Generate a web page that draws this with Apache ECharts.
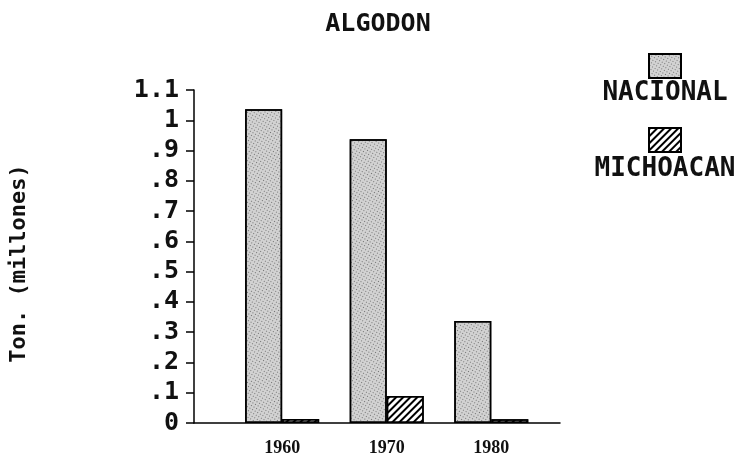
<!DOCTYPE html>
<html>
<head>
<meta charset="utf-8">
<script src="https://cdn.jsdelivr.net/npm/echarts@6/dist/echarts.min.js"></script>
<style>html,body{margin:0;padding:0;background:#fff}#c{width:737px;height:465px}</style>
</head>
<body>
<div id="c"></div>
<script>
var chartTitle = 'ALGODON';
var yAxisName = 'Ton. (millones)';
var years = [1960, 1970, 1980];
var seriesNames = ['NACIONAL', 'MICHOACAN'];
var nacional = [1.036, 0.937, 0.337];
var michoacan = [0.013, 0.089, 0.012];
var yTickValues = [0, 0.1, 0.2, 0.3, 0.4, 0.5, 0.6, 0.7, 0.8, 0.9, 1, 1.1];
var yTickLabels = ['0', '.1', '.2', '.3', '.4', '.5', '.6', '.7', '.8', '.9', '1', '1.1'];

var monoFont = "'DejaVu Sans Mono', 'Liberation Mono', monospace";

function pairs(vals) { return years.map(function (y, i) { return [y, vals[i]]; }); }

var chart = echarts.init(document.getElementById('c'), null, { renderer: 'canvas' });
chart.setOption({
  animation: false,
  backgroundColor: '#fff',
  aria: { enabled: true, decal: { show: true } },
  title: [
    { text: chartTitle, left: 378, top: 12, padding: 0, textAlign: 'center',
      textStyle: { fontFamily: monoFont, fontWeight: 'bold', fontSize: 25, color: '#111' } },
    { text: seriesNames[0], left: 665, top: 80, padding: 0, textAlign: 'center',
      textStyle: { fontFamily: monoFont, fontWeight: 'bold', fontSize: 26, color: '#111' } },
    { text: seriesNames[1], left: 665, top: 156, padding: 0, textAlign: 'center',
      textStyle: { fontFamily: monoFont, fontWeight: 'bold', fontSize: 26, color: '#111' } }
  ],
  legend: {
    data: seriesNames,
    orient: 'vertical',
    left: 648, top: 53, padding: 0,
    icon: 'rect',
    itemWidth: 32, itemHeight: 24, itemGap: 48,
    formatter: function () { return ''; },
    textStyle: { fontSize: 1 }
  },
  grid: { left: 182, top: 90, right: 177, bottom: 42, containLabel: false },
  xAxis: {
    type: 'value',
    min: 1951.57, max: 1986.57,
    axisLine: { show: true, onZero: false, lineStyle: { color: '#000', width: 1.5 } },
    axisTick: { show: false },
    splitLine: { show: false },
    axisLabel: {
      customValues: years,
      margin: 16,
      fontFamily: "'Liberation Serif', 'DejaVu Serif', serif",
      fontWeight: 'bold', fontSize: 18, color: '#111',
      formatter: function (v) { return String(Math.round(v)); }
    }
  },
  yAxis: {
    type: 'value',
    min: 0, max: 1.1, interval: 0.1,
    name: yAxisName,
    nameLocation: 'middle',
    nameRotate: 90,
    nameGap: 164,
    nameTextStyle: { fontFamily: monoFont, fontWeight: 'bold', fontSize: 22, color: '#111', padding: [0, 14, 0, 0] },
    axisLine: { show: true, lineStyle: { color: '#000', width: 1.5 } },
    axisTick: { show: true, inside: false, length: 8, lineStyle: { color: '#000', width: 1.5 } },
    splitLine: { show: false },
    axisLabel: {
      margin: 15,
      fontFamily: monoFont, fontWeight: 'bold', fontSize: 25, color: '#111',
      formatter: function (v) {
        for (var i = 0; i < yTickValues.length; i++) {
          if (Math.abs(yTickValues[i] - v) < 1e-6) return yTickLabels[i];
        }
        return '';
      }
    }
  },
  series: [
    {
      name: seriesNames[0], type: 'bar', barWidth: 37, barGap: '0%',
      data: pairs(nacional),
      itemStyle: {
        color: '#d2d2d2', borderColor: '#000', borderWidth: 1.5,
        decal: { symbol: 'rect', symbolSize: 1, dashArrayX: [1, 2], dashArrayY: [1, 2], color: 'rgba(50,50,50,0.6)' }
      }
    },
    {
      name: seriesNames[1], type: 'bar', barWidth: 37, barGap: '0%',
      data: pairs(michoacan),
      itemStyle: {
        color: '#fff', borderColor: '#000', borderWidth: 1.5,
        decal: { symbol: 'rect', symbolSize: 1, dashArrayX: [1, 0], dashArrayY: [2, 3], rotation: -Math.PI / 4, color: '#000' }
      }
    }
  ]
});
</script>
</body>
</html>
